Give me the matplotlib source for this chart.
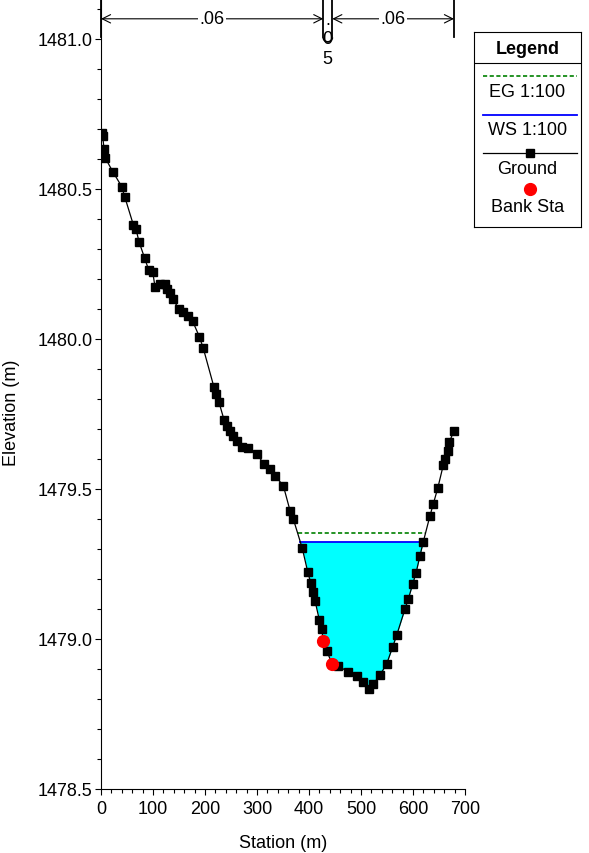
import matplotlib

matplotlib.use("Agg")
import matplotlib.pyplot as plt
import numpy as np
from matplotlib.patches import Arc
from matplotlib.ticker import FormatStrFormatter, MultipleLocator

plt.rcParams["font.family"] = ["Liberation Sans", "DejaVu Sans"]

# ground profile (station m, elevation m)
station = [
    1, 3.3, 5.8, 8.3, 22.5, 39.8, 45.6, 62.1, 67.3, 73.1, 84, 91.7, 99.4, 103.8,
    113.5, 123, 127.5, 132.7, 137.9, 150, 158.3, 167.9, 176.3, 189, 196.7, 217.3,
    221.2, 226.9, 236.5, 241.7, 248.1, 254.4, 262.1, 270.6, 283.3, 299.4, 313.5,
    325, 334.6, 350.6, 363.5, 369.8, 387.1, 397.5, 403.3, 407.1, 411.5, 419.8,
    424.4, 427.5, 434, 444.8, 456.3, 475.6, 491.7, 504.4, 515.4, 523.7, 536.5,
    549.4, 561, 568.7, 584.6, 591, 599.4, 605.8, 613.5, 619.8, 632.7, 639, 647.5,
    658.3, 661.5, 666.7, 669.8, 678.8,
]
elevation = [
    1480.687, 1480.676, 1480.633, 1480.603, 1480.558, 1480.508, 1480.474,
    1480.381, 1480.366, 1480.324, 1480.269, 1480.230, 1480.224, 1480.174,
    1480.183, 1480.183, 1480.167, 1480.153, 1480.133, 1480.100, 1480.089,
    1480.078, 1480.059, 1480.008, 1479.969, 1479.839, 1479.817, 1479.789,
    1479.731, 1479.711, 1479.694, 1479.678, 1479.661, 1479.639, 1479.636,
    1479.617, 1479.583, 1479.567, 1479.544, 1479.511, 1479.428, 1479.400,
    1479.302, 1479.224, 1479.187, 1479.156, 1479.128, 1479.064, 1479.033,
    1478.994, 1478.961, 1478.915, 1478.911, 1478.889, 1478.878, 1478.858,
    1478.833, 1478.850, 1478.880, 1478.917, 1478.974, 1479.013, 1479.100,
    1479.133, 1479.183, 1479.220, 1479.278, 1479.324, 1479.411, 1479.450,
    1479.502, 1479.580, 1479.600, 1479.628, 1479.656, 1479.694,
]
bank_sta = [427.5, 444.8]
bank_elev = [1478.994, 1478.915]
ws_elev = 1479.324
eg_elev = 1479.352
n_values = [".06", ".05", ".06"]

x = np.array(station)
z = np.array(elevation)


def crossings(level):
    # left/right stations where the ground crosses a flat water level
    i = int(np.argmin(z))
    left = np.interp(level, z[: i + 1][::-1], x[: i + 1][::-1])
    right = np.interp(level, z[i:], x[i:])
    return left, right


FS = 13

fig = plt.figure(figsize=(5.89, 8.54), dpi=100)
ax = fig.add_axes([101 / 589, 64 / 854, 364 / 589, 790 / 854])

ax.fill_between(x, z, ws_elev, where=z <= ws_elev, interpolate=True,
                color="#00ffff", lw=0)
wl, wr = crossings(ws_elev)
ax.plot([wl, wr], [ws_elev, ws_elev], color="#0000ff", lw=1.3)
el, er = crossings(eg_elev)
ax.plot([el, er], [eg_elev, eg_elev], color="#008000", lw=1.2, ls=(0, (2.5, 1.5)))
ax.plot(x, z, color="black", lw=0.9, marker="s", ms=5.2, mfc="black", mec="black")
ax.plot(bank_sta, bank_elev, ls="none", marker="o", ms=8.5, color="#ff0000")

ax.set_xlim(0, 700)
ax.set_ylim(1478.5, 1481.133)
ax.xaxis.set_major_locator(MultipleLocator(100))
ax.xaxis.set_minor_locator(MultipleLocator(20))
ax.yaxis.set_major_locator(MultipleLocator(0.5))
ax.yaxis.set_minor_locator(MultipleLocator(0.1))
ax.yaxis.set_major_formatter(FormatStrFormatter("%.1f"))
ax.tick_params(which="major", length=4, width=0.8, labelsize=FS, pad=2)
ax.tick_params(axis="x", which="major", pad=4)
ax.tick_params(which="minor", length=3, width=0.8)
for s in ["top", "right"]:
    ax.spines[s].set_visible(False)

ax.set_xlabel("Station (m)", fontsize=FS)
ax.set_ylabel("Elevation (m)", fontsize=FS)
ax.xaxis.set_label_coords(0.5, -0.057)
ax.yaxis.set_label_coords(-0.2225, 0.477)

# Manning's n bar along the top
y_top = 1481.133
y_bot = 1481.007
y_arr = 1481.067
ends = [0, x[-1]]
for b in ends:
    ax.plot([b, b], [y_bot, y_top], color="black", lw=1.3, clip_on=False)
u_bot = 1480.99
u_h = 0.03
for b in bank_sta:
    ax.plot([b, b], [u_bot + u_h / 2, y_top], color="black", lw=1.3, clip_on=False)
ax.add_patch(Arc(((bank_sta[0] + bank_sta[1]) / 2, u_bot + u_h / 2),
                 bank_sta[1] - bank_sta[0], u_h, theta1=180, theta2=360,
                 color="black", lw=1.3))
for (a, b), n in zip([(ends[0], bank_sta[0]), (bank_sta[1], ends[1])],
                     [n_values[0], n_values[2]]):
    ax.annotate("", xy=(a, y_arr), xytext=(b, y_arr),
                arrowprops=dict(arrowstyle="<->", lw=0.8, color="black",
                                shrinkA=0, shrinkB=0, mutation_scale=15))
    ax.text((a + b) / 2, y_arr, n, ha="center", va="center", fontsize=FS,
            bbox=dict(facecolor="white", edgecolor="none", pad=1))
ax.text((bank_sta[0] + bank_sta[1]) / 2, 1481.0, "\n".join(n_values[1]),
        ha="center", va="center", fontsize=FS, linespacing=1.2)

# legend box
lg = fig.add_axes([474 / 589, (854 - 228) / 854, 107 / 589, 195 / 854])
lg.set_xlim(474, 581)
lg.set_ylim(228, 33)
lg.set_xticks([])
lg.set_yticks([])
for s in lg.spines.values():
    s.set_linewidth(0.8)
lg.text(527.5, 50, "Legend", ha="center", va="center", fontsize=FS,
        fontweight="bold")
lg.plot([474, 581], [64, 64], color="black", lw=0.8)
lg.plot([483, 577], [76.5, 76.5], color="#008000", lw=1.2, ls=(0, (2.5, 1.5)))
lg.text(527.5, 93, "EG 1:100", ha="center", va="center", fontsize=FS)
lg.plot([483, 577], [116, 116], color="#0000ff", lw=1.3)
lg.text(527.5, 131, "WS 1:100", ha="center", va="center", fontsize=FS)
lg.plot([483, 577], [154, 154], color="black", lw=0.9)
lg.plot([530], [154], marker="s", ms=5.2, color="black")
lg.text(527.5, 170, "Ground", ha="center", va="center", fontsize=FS)
lg.plot([530], [190], marker="o", ms=8.5, color="#ff0000")
lg.text(527.5, 208, "Bank Sta", ha="center", va="center", fontsize=FS)

fig.savefig("out.png", dpi=100)
